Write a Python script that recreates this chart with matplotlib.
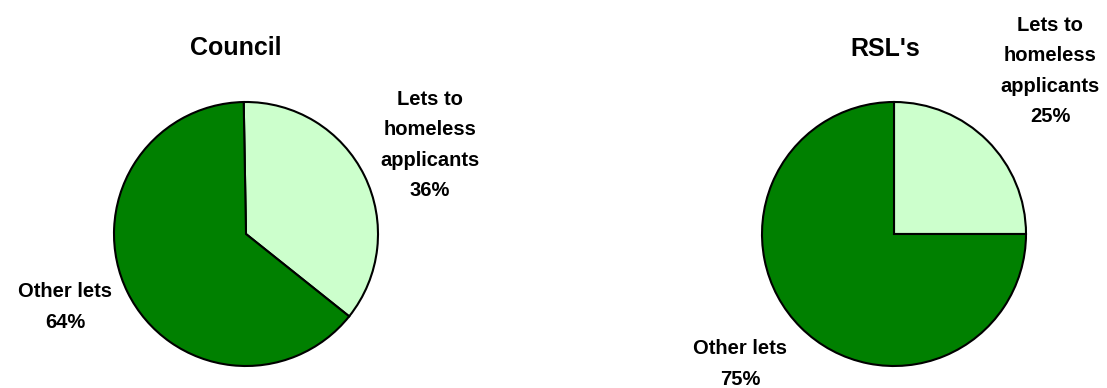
import matplotlib
matplotlib.use("Agg")
import matplotlib.pyplot as plt

plt.rcParams['font.family'] = ['Liberation Sans', 'DejaVu Sans']

# lettings split by landlord type
titles = ["Council", "RSL's"]
categories = ["Lets to\nhomeless\napplicants", "Other lets"]
council_pct = [36, 64]
rsl_pct = [25, 75]
colors = ["#CCFFCC", "#008000"]

W, H = 1107, 388
fig = plt.figure(figsize=(W / 100, H / 100), dpi=100)

R = 132  # pie radius in pixels


def make_ax(cx, cy):
    return fig.add_axes([(cx - R) / W, (H - cy - R) / H, 2 * R / W, 2 * R / H])


def to_data(cx, cy, px, py):
    return (px - cx) / R, (cy - py) / R


panels = [
    # centre, start angle, values, title pos, homeless label pos, other label pos
    ((246, 234), 91, council_pct, (236, 48), (430, 145), (65, 307)),
    ((894, 234), 90, rsl_pct, (885, 49), (1050, 71), (740, 364)),
]

for title, (centre, start, vals, tpos, hpos, opos) in zip(titles, panels):
    cx, cy = centre
    ax = make_ax(cx, cy)
    ax.pie(vals, colors=colors, startangle=start, counterclock=False, radius=1,
           wedgeprops=dict(edgecolor='black', linewidth=1.5))
    # pie() resets the limits, so pin them back to the unit circle
    ax.set_xlim(-1, 1)
    ax.set_ylim(-1, 1)
    ax.set_aspect('equal')
    ax.axis('off')
    tx, ty = to_data(cx, cy, *tpos)
    ax.text(tx, ty, title, ha='center', va='center', fontsize=18, fontweight='bold')
    for cat, v, pos in zip(categories, vals, [hpos, opos]):
        x, y = to_data(cx, cy, *pos)
        ax.text(x, y, f"{cat}\n{v}%", ha='center', va='center', fontsize=14.5,
                fontweight='bold', linespacing=1.76)

fig.savefig("out.png", dpi=100, facecolor='white')
